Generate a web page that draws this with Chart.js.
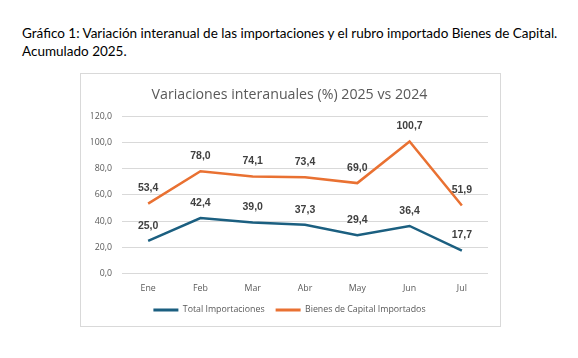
<!DOCTYPE html>
<html><head><meta charset="utf-8">
<script src="https://cdn.jsdelivr.net/npm/chart.js@4"></script>
<style>
html,body{margin:0;padding:0;background:#fff;}
#head{position:absolute;left:22px;top:24px;font-family:"Lato","Open Sans",sans-serif;font-size:13.5px;line-height:18px;color:#000;}
#box{position:absolute;left:80px;top:73px;width:419px;height:252px;border:1px solid #d9d9d9;}
canvas{display:block;position:absolute;left:0;top:0;}
</style></head>
<body>
<div id="head">Gráfico 1: Variación interanual de las importaciones y el rubro importado Bienes de Capital.<br>Acumulado 2025.</div>
<div id="box"><canvas id="c" width="419" height="252"></canvas></div>
<script>
const categories = ["Ene","Feb","Mar","Abr","May","Jun","Jul"];
const totalImportaciones = [25.0,42.4,39.0,37.3,29.4,36.4,17.7];
const bienesCapital = [53.4,78.0,74.1,73.4,69.0,100.7,51.9];
const seriesNames = ["Total Importaciones","Bienes de Capital Importados"];
const chartTitle = "Variaciones interanuales (%) 2025 vs 2024";

const fmt = v => v.toFixed(1).replace('.', ',');

const labelPlugin = {
  id: 'dataLabels',
  afterDatasetsDraw(chart) {
    const ctx = chart.ctx;
    ctx.save();
    ctx.font = 'bold 10.5px "Liberation Sans", Arial, sans-serif';
    ctx.fillStyle = '#404040';
    ctx.textAlign = 'center';
    ctx.textBaseline = 'middle';
    chart.data.datasets.forEach((ds, i) => {
      const meta = chart.getDatasetMeta(i);
      meta.data.forEach((pt, j) => {
        ctx.fillText(fmt(ds.data[j]), pt.x, pt.y - 15);
      });
    });
    ctx.restore();
  }
};

new Chart(document.getElementById('c'), {
  type: 'line',
  data: {
    labels: categories,
    datasets: [
      {label: seriesNames[0], data: totalImportaciones, borderColor: '#1b5f80', backgroundColor: '#1b5f80', borderWidth: 2.5, pointRadius: 0, tension: 0},
      {label: seriesNames[1], data: bienesCapital, borderColor: '#e97132', backgroundColor: '#e97132', borderWidth: 2.5, pointRadius: 0, tension: 0}
    ]
  },
  options: {
    responsive: false,
    animation: false,
    devicePixelRatio: 1,
    layout: {padding: {left: 10, right: 12, top: 0, bottom: 1.7}},
    plugins: {
      title: {display: true, text: chartTitle, color: '#595959', font: {family: '"Open Sans", sans-serif', size: 14.2, weight: 'normal'}, padding: {top: 12, bottom: 13}},
      legend: {
        position: 'bottom',
        labels: {
          color: '#595959',
          font: {family: '"Open Sans", sans-serif', size: 8.8},
          boxWidth: 25, boxHeight: 3, padding: 11,
          generateLabels(chart) {
            return chart.data.datasets.map((d, i) => ({text: d.label, fillStyle: d.borderColor, strokeStyle: d.borderColor, lineWidth: 0, datasetIndex: i, fontColor: '#595959'}));
          }
        }
      },
      tooltip: {enabled: false}
    },
    scales: {
      x: {
        offset: true,
        afterFit(s) { s.height = 20.7; },
        grid: {display: false, drawTicks: false},
        border: {display: false},
        ticks: {color: '#595959', font: {family: '"Open Sans", sans-serif', size: 8.8}, padding: 9}
      },
      y: {
        min: 0, max: 120,
        afterFit(s) { s.width = 31; },
        grid: {color: '#d9d9d9', drawTicks: false, lineWidth: 1},
        border: {display: false},
        ticks: {stepSize: 20, color: '#595959', font: {family: '"Open Sans", sans-serif', size: 8.8}, padding: 10, callback: v => fmt(v)}
      }
    }
  },
  plugins: [labelPlugin]
});
</script>
</body></html>
